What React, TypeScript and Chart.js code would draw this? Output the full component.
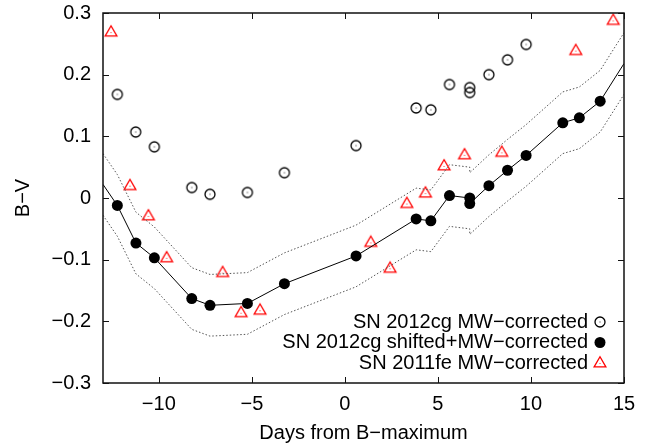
import { useEffect, useRef } from "react";
import { Chart, registerables } from "chart.js";

Chart.register(...registerables);

// ---------- data ----------
const xTickValues = [-10, -5, 0, 5, 10, 15];
const xTickLabels = ["−10", "−5", "0", "5", "10", "15"];
const yTickValues = [-0.3, -0.2, -0.1, 0, 0.1, 0.2, 0.3];
const yTickLabels = ["−0.3", "−0.2", "−0.1", "0", "0.1", "0.2", "0.3"];

const legendLabels = [
  "SN 2012cg MW−corrected",
  "SN 2012cg shifted+MW−corrected",
  "SN 2011fe MW−corrected",
];

// SN 2012cg MW-corrected (open circles)
const openDays = [-12.23, -11.24, -10.24, -8.23, -7.25, -5.24, -3.25, 0.6, 3.83, 4.62, 5.62, 6.71, 6.71, 7.74, 8.74, 9.74];
const openBV = [0.168, 0.107, 0.083, 0.017, 0.006, 0.009, 0.041, 0.085, 0.146, 0.143, 0.184, 0.179, 0.171, 0.2, 0.224, 0.249];

// SN 2012cg shifted+MW-corrected (filled circles)
const filledDays = [-12.23, -11.23, -10.24, -8.23, -7.25, -5.24, -3.25, 0.6, 3.83, 4.62, 5.62, 6.71, 6.71, 7.74, 8.74, 9.74, 11.71, 12.6, 13.72];
const filledBV = [-0.012, -0.073, -0.097, -0.163, -0.174, -0.171, -0.139, -0.094, -0.034, -0.037, 0.004, 0.0, -0.009, 0.02, 0.045, 0.069, 0.122, 0.13, 0.157];

// SN 2011fe MW-corrected (triangles)
const triDays = [-12.57, -11.55, -10.56, -9.58, -6.57, -5.58, -4.56, 1.39, 2.43, 3.33, 4.33, 5.33, 6.43, 8.43, 12.41, 14.42];
const triBV = [0.269, 0.02, -0.029, -0.097, -0.121, -0.186, -0.182, -0.072, -0.114, -0.009, 0.008, 0.052, 0.07, 0.074, 0.239, 0.288];

// template curve (solid) and its envelope (dotted)
const curveDays = [-13, -12.23, -11.23, -10.24, -8.23, -7.25, -5.24, -3.25, 0.6, 3.83, 4.62, 5.62, 6.71, 6.71, 7.74, 8.74, 9.74, 11.71, 12.6, 13.72, 15];
const curveBV = [0.022, -0.012, -0.073, -0.097, -0.163, -0.174, -0.171, -0.139, -0.094, -0.034, -0.037, 0.004, 0.0, -0.009, 0.02, 0.045, 0.069, 0.122, 0.13, 0.157, 0.218];
const upperBV = [0.072, 0.038, -0.023, -0.047, -0.113, -0.124, -0.121, -0.089, -0.044, 0.016, 0.013, 0.054, 0.05, 0.041, 0.07, 0.095, 0.119, 0.172, 0.18, 0.207, 0.268];
const lowerBV = [-0.028, -0.062, -0.123, -0.147, -0.213, -0.224, -0.221, -0.189, -0.144, -0.084, -0.087, -0.046, -0.05, -0.059, -0.03, -0.005, 0.019, 0.072, 0.08, 0.107, 0.168];

const FONT = "'Liberation Sans', Arial, Helvetica, sans-serif";
const FONT_SIZE = 20;

function zip(xs: number[], ys: number[]) {
  return xs.map((x, i) => ({ x, y: ys[i] }));
}

function makeOpenCircle(): HTMLCanvasElement {
  const c = document.createElement("canvas");
  c.width = 14;
  c.height = 14;
  const g = c.getContext("2d")!;
  g.strokeStyle = "#000";
  g.lineWidth = 1.3;
  g.beginPath();
  g.arc(7, 7, 5, 0, Math.PI * 2);
  g.stroke();
  g.fillStyle = "#222";
  g.fillRect(6.5, 6.5, 1, 1);
  return c;
}

function makeTriangle(): HTMLCanvasElement {
  const c = document.createElement("canvas");
  c.width = 16;
  c.height = 16;
  const g = c.getContext("2d")!;
  const cx = 8, cy = 8.5, r = 6.8;
  g.strokeStyle = "#ff0000";
  g.lineWidth = 1.3;
  g.beginPath();
  for (let k = 0; k < 3; k++) {
    const a = -Math.PI / 2 + (k * 2 * Math.PI) / 3;
    const px = cx + r * Math.cos(a);
    const py = cy + r * Math.sin(a);
    if (k === 0) g.moveTo(px, py);
    else g.lineTo(px, py);
  }
  g.closePath();
  g.stroke();
  g.fillStyle = "#ff2222";
  g.fillRect(7.5, 8, 1, 1);
  return c;
}

export default function App() {
  const ref = useRef<HTMLCanvasElement | null>(null);

  useEffect(() => {
    document.body.style.margin = "0";
    const canvas = ref.current;
    if (!canvas) return;
    const openImg = makeOpenCircle();
    const triImg = makeTriangle();

    const framePlugin = {
      id: "gnuFrame",
      afterDraw(chart: any) {
        const { ctx, chartArea: a, scales } = chart;
        ctx.save();
        // border
        ctx.strokeStyle = "#111";
        ctx.lineWidth = 1.5;
        ctx.strokeRect(a.left, a.top, a.right - a.left, a.bottom - a.top);
        // inward ticks on all four sides
        ctx.lineWidth = 1;
        ctx.beginPath();
        const tl = 6;
        for (const v of xTickValues) {
          const px = Math.round(scales.x.getPixelForValue(v)) + 0.5;
          ctx.moveTo(px, a.bottom);
          ctx.lineTo(px, a.bottom - tl);
          ctx.moveTo(px, a.top);
          ctx.lineTo(px, a.top + tl);
        }
        for (const v of yTickValues) {
          const py = Math.round(scales.y.getPixelForValue(v)) + 0.5;
          ctx.moveTo(a.left, py);
          ctx.lineTo(a.left + tl, py);
          ctx.moveTo(a.right, py);
          ctx.lineTo(a.right - tl, py);
        }
        ctx.stroke();

        // axis titles
        ctx.fillStyle = "#000";
        ctx.font = `${FONT_SIZE}px ${FONT}`;
        ctx.textAlign = "center";
        ctx.textBaseline = "middle";
        ctx.fillText("Days from B−maximum", (a.left + a.right) / 2, 433);
        ctx.save();
        ctx.translate(23, (a.top + a.bottom) / 2);
        ctx.rotate(-Math.PI / 2);
        ctx.fillText("B−V", 0, 0);
        ctx.restore();

        // key (text right-aligned, marker to the right)
        ctx.textAlign = "right";
        const textX = a.right - 36;
        const markX = a.right - 24;
        legendLabels.forEach((label, i) => {
          const y = a.bottom - 61 + i * 20.5;
          ctx.fillStyle = "#000";
          ctx.fillText(label, textX, y);
          if (i === 0) {
            ctx.drawImage(openImg, markX - openImg.width / 2, y - openImg.height / 2);
          } else if (i === 1) {
            ctx.beginPath();
            ctx.arc(markX, y, 5.5, 0, Math.PI * 2);
            ctx.fillStyle = "#000";
            ctx.fill();
          } else {
            ctx.drawImage(triImg, markX - triImg.width / 2, y - triImg.height / 2);
          }
        });
        ctx.restore();
      },
    };

    const chart = new Chart(canvas, {
      type: "scatter",
      data: {
        datasets: [
          {
            label: "upper",
            data: zip(curveDays, upperBV),
            showLine: true,
            borderColor: "#555",
            borderWidth: 1,
            borderDash: [1.5, 2],
            pointRadius: 0,
            fill: false,
          },
          {
            label: "lower",
            data: zip(curveDays, lowerBV),
            showLine: true,
            borderColor: "#555",
            borderWidth: 1,
            borderDash: [1.5, 2],
            pointRadius: 0,
            fill: false,
          },
          {
            label: "curve",
            data: zip(curveDays, curveBV),
            showLine: true,
            borderColor: "#000",
            borderWidth: 1,
            pointRadius: 0,
            fill: false,
          },
          {
            label: legendLabels[0],
            data: zip(openDays, openBV),
            pointStyle: openImg,
            pointRadius: 6,
          },
          {
            label: legendLabels[1],
            data: zip(filledDays, filledBV),
            pointStyle: "circle",
            pointRadius: 5.5,
            backgroundColor: "#000",
            borderColor: "#000",
            borderWidth: 0,
          },
          {
            label: legendLabels[2],
            data: zip(triDays, triBV),
            pointStyle: triImg,
            pointRadius: 7,
          },
        ],
      },
      options: {
        responsive: false,
        animation: false,
        events: [],
        layout: { padding: { left: 0, top: 13, right: 40, bottom: 0 } },
        plugins: {
          legend: { display: false },
          tooltip: { enabled: false },
          title: { display: false },
        },
        scales: {
          x: {
            type: "linear",
            min: -13,
            max: 15,
            afterBuildTicks: (s: any) => {
              s.ticks = xTickValues.map((v) => ({ value: v }));
            },
            afterFit: (s: any) => {
              s.height = 61;
              s.paddingLeft = 0;
              s.paddingRight = 0;
            },
            grid: { display: false, drawTicks: false, tickLength: 0 },
            border: { display: false },
            ticks: {
              padding: 9,
              color: "#000",
              font: { family: FONT, size: FONT_SIZE },
              maxRotation: 0,
              autoSkip: false,
              callback: (_v: any, i: number) => xTickLabels[i],
            },
          },
          y: {
            type: "linear",
            min: -0.3,
            max: 0.3,
            afterBuildTicks: (s: any) => {
              s.ticks = yTickValues.map((v) => ({ value: v }));
            },
            afterFit: (s: any) => {
              s.width = 103;
              s.paddingTop = 0;
              s.paddingBottom = 0;
            },
            grid: { display: false, drawTicks: false, tickLength: 0 },
            border: { display: false },
            ticks: {
              padding: 12,
              color: "#000",
              font: { family: FONT, size: FONT_SIZE },
              autoSkip: false,
              callback: (_v: any, i: number) => yTickLabels[i],
            },
          },
        },
      },
      plugins: [framePlugin],
    } as any);

    return () => chart.destroy();
  }, []);

  return (
    <div style={{ position: "fixed", left: 0, top: 0, width: 664, height: 444, background: "#fff" }}>
      <canvas ref={ref} width={664} height={444} style={{ display: "block", width: 664, height: 444 }} />
    </div>
  );
}
